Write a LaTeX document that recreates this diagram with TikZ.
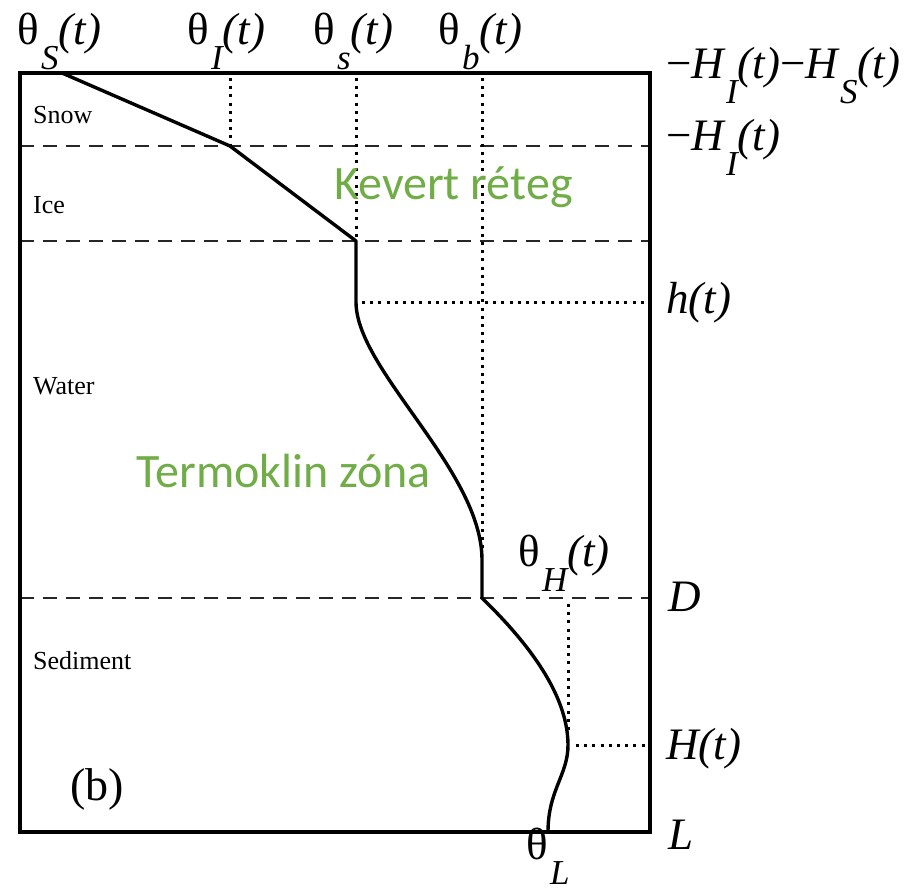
\documentclass[tikz,border=0pt]{standalone}
\usepackage{fontspec}
\setmainfont{Liberation Serif}
\newfontfamily\greenfont{Carlito}
\definecolor{labgreen}{RGB}{112,173,71}
\newcommand\subl[1]{\raisebox{-0.56em}{\fontsize{35}{35}\selectfont\itshape #1}}
\newcommand\thlab[1]{θ\kern0.05em\subl{#1}\textit{(t)}}
\begin{document}
\begin{tikzpicture}[x=1pt,y=-1pt,
  frame/.style={line width=3.4pt,line join=miter},
  layer/.style={line width=2pt,dash pattern=on 14pt off 9pt,black!85},
  guide/.style={line width=3pt,dash pattern=on 3pt off 5.2pt},
  profile/.style={line width=3.4pt,line join=round},
  biglab/.style={anchor=base west,inner sep=0pt,font=\fontsize{45}{45}\selectfont},
  rlab/.style={anchor=base west,inner sep=0pt,font=\fontsize{45}{45}\selectfont},
  laylab/.style={anchor=base west,inner sep=0pt,font=\fontsize{26}{26}\selectfont},
  greenlab/.style={anchor=base west,inner sep=0pt,text=labgreen,font=\greenfont\fontsize{48}{48}\selectfont}]
\useasboundingbox (0,0) rectangle (921,895);
% coordinates
\coordinate (TL) at (20,73);
\coordinate (BR) at (650,832);
\coordinate (pS) at (62,73);
\coordinate (pI) at (230,146);
\coordinate (ps) at (356,241);
\coordinate (ph) at (356,302);
\coordinate (pb) at (482,560);
\coordinate (pD) at (482,598);
\coordinate (pH) at (568,745);
\coordinate (pL) at (548,832);
% layer dashed lines
\draw[layer] (20,146) -- (650,146);
\draw[layer] (20,241) -- (650,241);
\draw[layer] (20,598) -- (650,598);
% guides
\draw[guide] (230,78) -- (pI);
\draw[guide] (356,78) -- (ps);
\draw[guide] (482,78) -- (482,548);
\draw[guide] (568,604) -- (568,735);
\draw[guide] (362,302) -- (650,302);
\draw[guide] (576,745) -- (650,745);
% frame
\draw[frame] (TL) rectangle (BR);
% profile
\draw[profile] (pS) -- (pI) -- (ps) -- (ph)
  .. controls (356,370) and (482,470) .. (pb) -- (pD)
  .. controls (520,635) and (568,690) .. (pH)
  .. controls (568,775) and (548,790) .. (pL);
% top labels
\node[biglab] (lS) at (17,44) {\thlab{S}};
\node[biglab] (lI) at (187,44) {\thlab{I}};
\node[biglab] (ls) at (313,44) {\thlab{s}};
\node[biglab] (lb) at (438,44) {\thlab{b}};
\node[biglab] (lH) at (518,566) {\thlab{H}};
\node[biglab] (lL) at (526,859) {θ\kern0.05em\subl{L}};
% right labels
\node[rlab] (r1) at (666,78) {−\textit{H}\subl{I}\textit{(t)}−\textit{H}\subl{S}\textit{(t)}};
\node[rlab] (r2) at (666,150) {−\textit{H}\subl{I}\textit{(t)}};
\node[rlab] (r3) at (666,313) {\textit{h(t)}};
\node[rlab] (r4) at (668,611) {\textit{D}};
\node[rlab] (r5) at (666,759) {\textit{H(t)}};
\node[rlab] (r6) at (668,849) {\textit{L}};
% layer labels
\node[laylab] (snow) at (33,123) {Snow};
\node[laylab] (ice) at (33,213) {Ice};
\node[laylab] (water) at (33,394) {Water};
\node[laylab] (sed) at (33,669) {Sediment};
\node[anchor=base west,inner sep=0pt,font=\fontsize{46}{46}\selectfont] (blab) at (70,800) {(b)};
% green labels
\node[greenlab] (kev) at (334,199) {Kevert réteg};
\node[greenlab] (term) at (136,487) {Termoklin zóna};
\end{tikzpicture}
\end{document}
